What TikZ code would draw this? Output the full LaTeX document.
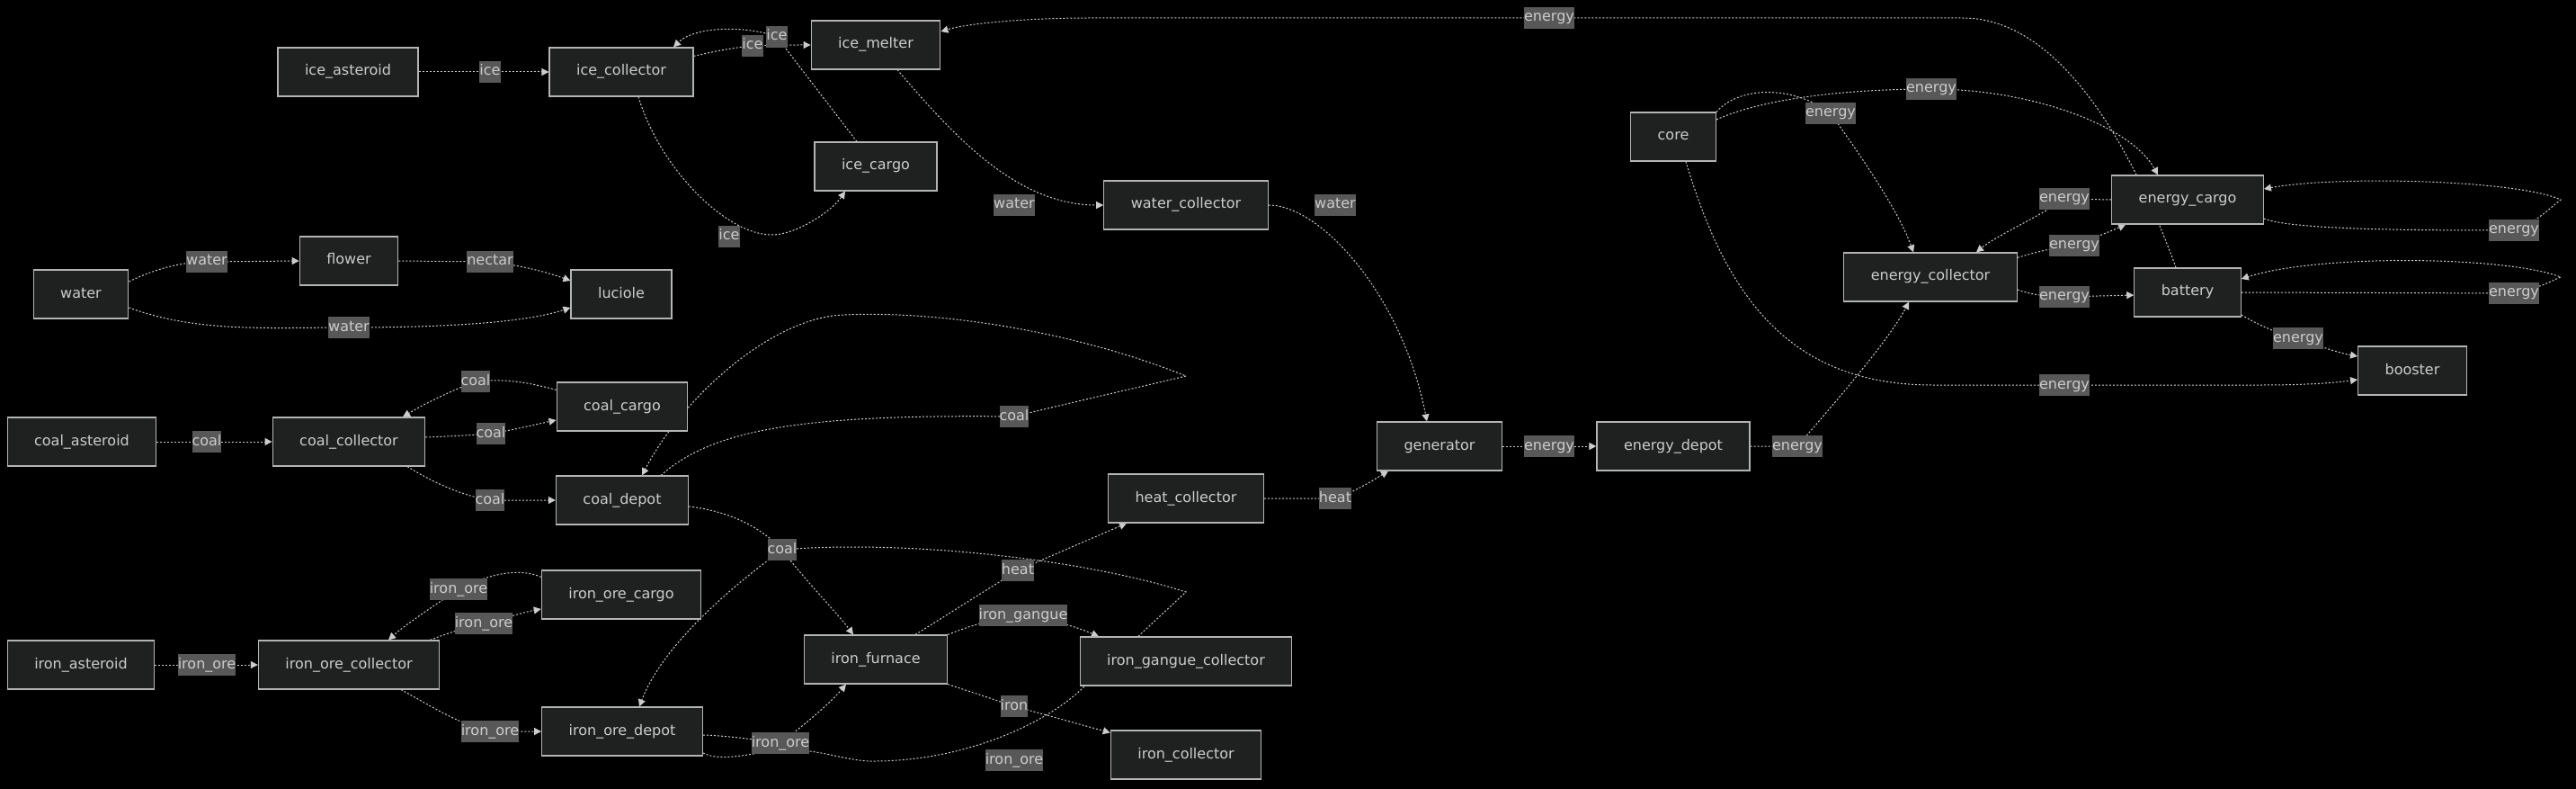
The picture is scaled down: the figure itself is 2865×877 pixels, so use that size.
\documentclass[tikz,border=0pt]{standalone}
\usepackage{fontspec}
\setmainfont{DejaVu Sans}
\usetikzlibrary{arrows.meta}
\pgfdeclarelayer{bg}
\pgfdeclarelayer{edges}
\pgfsetlayers{bg,edges,main}
\definecolor{nodefill}{HTML}{1F2020}
\definecolor{nodeline}{HTML}{B4B4B4}
\definecolor{txt}{HTML}{CCCCCC}
\definecolor{lblfill}{HTML}{585858}
\definecolor{edgec}{HTML}{CCCCCC}
\begin{document}
\begin{tikzpicture}[x=1pt,y=1pt,
  box/.style={draw=nodeline, fill=nodefill, line width=1.2pt, minimum height=54pt,
    inner xsep=30pt, inner ysep=0pt, text=txt, text height=12pt, text depth=4pt,
    font=\fontsize{16}{19}\selectfont},
  lbl/.style={fill=lblfill, text=txt, inner xsep=0pt, inner ysep=0pt, minimum height=24pt,
    text height=12pt, text depth=4pt, font=\fontsize{16}{19}\selectfont},
  edge/.style={draw=edgec, line width=1pt, dash pattern=on 2pt off 2pt,
    -{Triangle[length=8pt,width=8pt,fill=edgec]}}]
\begin{pgfonlayer}{bg}
\fill[black] (0,0) rectangle (2865,-877);
\end{pgfonlayer}
\useasboundingbox (0,0) rectangle (2865,-877);

% nodes
\node[box] (ice_asteroid) at (387,-80) {ice\_asteroid};
\node[box] (ice_collector) at (691,-80) {ice\_collector};
\node[box] (ice_melter) at (974,-50) {ice\_melter};
\node[box] (ice_cargo) at (974,-185) {ice\_cargo};
\node[box] (water) at (90,-327) {water};
\node[box] (flower) at (388,-290) {flower};
\node[box] (luciole) at (691,-327) {luciole};
\node[box] (water_collector) at (1319,-228) {water\_collector};
\node[box] (core) at (1861,-152) {core};
\node[box] (energy_cargo) at (2433,-222) {energy\_cargo};
\node[box] (energy_collector) at (2147,-308) {energy\_collector};
\node[box] (battery) at (2433,-325) {battery};
\node[box] (booster) at (2683,-412) {booster};
\node[box] (generator) at (1601,-496) {generator};
\node[box] (energy_depot) at (1861,-496) {energy\_depot};
\node[box] (heat_collector) at (1319,-554) {heat\_collector};
\node[box] (coal_asteroid) at (91,-491) {coal\_asteroid};
\node[box] (coal_collector) at (388,-491) {coal\_collector};
\node[box] (coal_cargo) at (692,-452) {coal\_cargo};
\node[box] (coal_depot) at (692,-556) {coal\_depot};
\node[box] (iron_asteroid) at (90,-739) {iron\_asteroid};
\node[box] (iron_ore_collector) at (388,-739) {iron\_ore\_collector};
\node[box] (iron_ore_cargo) at (691,-661) {iron\_ore\_cargo};
\node[box] (iron_ore_depot) at (692,-813) {iron\_ore\_depot};
\node[box] (iron_furnace) at (974,-733) {iron\_furnace};
\node[box] (iron_gangue_collector) at (1319,-735) {iron\_gangue\_collector};
\node[box] (iron_collector) at (1319,-839) {iron\_collector};

% edge labels
\node[lbl] (L1) at (545,-80) {ice};
\node[lbl] (L2) at (837,-51) {ice};
\node[lbl] (L3) at (864,-41) {ice};
\node[lbl] (L4) at (811,-263) {ice};
\node[lbl] (L5) at (230,-291) {water};
\node[lbl] (L6) at (545,-291) {nectar};
\node[lbl] (L7) at (388,-364) {water};
\node[lbl] (L8) at (1128,-228) {water};
\node[lbl] (L9) at (1485,-228) {water};
\node[lbl] (L10) at (1723,-20) {energy};
\node[lbl] (L11) at (2036,-126) {energy};
\node[lbl] (L12) at (2148,-99) {energy};
\node[lbl] (L13) at (2296,-428) {energy};
\node[lbl] (L14) at (2296,-221) {energy};
\node[lbl] (L15) at (2307,-273) {energy};
\node[lbl] (L16) at (2296,-330) {energy};
\node[lbl] (L17) at (2796,-256) {energy};
\node[lbl] (L18) at (2796,-326) {energy};
\node[lbl] (L19) at (2556,-376) {energy};
\node[lbl] (L20) at (1999,-496) {energy};
\node[lbl] (L21) at (1723,-496) {energy};
\node[lbl] (L22) at (1485,-554) {heat};
\node[lbl] (L23) at (1132,-634) {heat};
\node[lbl] (L24) at (1138,-684) {iron\_gangue};
\node[lbl] (L25) at (1128,-785) {iron};
\node[lbl] (L26) at (1128,-845) {iron\_ore};
\node[lbl] (L27) at (868,-826) {iron\_ore};
\node[lbl] (L28) at (870,-611) {coal};
\node[lbl] (L29) at (1128,-463) {coal};
\node[lbl] (L30) at (230,-491) {coal};
\node[lbl] (L31) at (529,-424) {coal};
\node[lbl] (L32) at (546,-482) {coal};
\node[lbl] (L33) at (545,-556) {coal};
\node[lbl] (L34) at (230,-739) {iron\_ore};
\node[lbl] (L35) at (510,-655) {iron\_ore};
\node[lbl] (L36) at (538,-693) {iron\_ore};
\node[lbl] (L37) at (545,-813) {iron\_ore};

\begin{pgfonlayer}{edges}
% ice
\draw[edge] (ice_asteroid) -- (L1.center) -- (ice_collector);
\draw[edge] ([yshift=-10pt]ice_collector.north east) .. controls (795,-57) and (815,-53) .. (L2.center) .. controls (860,-50) and (880,-50) .. (ice_melter.west);
\draw[edge] ([xshift=-21pt]ice_cargo.north) -- (L3.center) .. controls (834,-29) and (774,-28) .. ([xshift=58pt]ice_collector.north);
\draw[edge] ([xshift=19pt]ice_collector.south) .. controls (735,-190) and (810,-262) .. (859,-261) .. controls (885,-261) and (925,-235) .. ([xshift=-34pt]ice_cargo.south);
\draw[edge] ([xshift=24pt]ice_melter.south) .. controls (1060,-150) and (1130,-228) .. (water_collector.west);
\draw[edge] (water_collector.east) .. controls (1470,-228) and (1560,-330) .. ([xshift=-14pt]generator.north);
% energy
\draw[edge] ([xshift=-13pt]battery.north) .. controls (2370,-160) and (2290,-20) .. (2183,-20) -- (L10.center) -- (1210,-20) .. controls (1150,-20) and (1080,-25) .. ([yshift=15pt]ice_melter.east);
\draw[edge] (core.north east) .. controls (1935,-95) and (1995,-95) .. (L11.center) .. controls (2060,-160) and (2110,-230) .. ([xshift=-19pt]energy_collector.north);
\draw[edge] ([yshift=19pt]core.east) .. controls (1960,-110) and (2050,-99) .. (L12.center) .. controls (2260,-99) and (2370,-140) .. ([xshift=-33pt]energy_cargo.north);
\draw[edge] ([xshift=14pt]core.south) .. controls (1920,-330) and (1990,-428) .. (2150,-428) -- (L13.center) -- (2515,-428) .. controls (2570,-428) and (2600,-425) .. ([yshift=-10pt]booster.west);
\draw[edge] (energy_cargo.west) -- (L14.center) .. controls (2270,-240) and (2220,-262) .. ([xshift=51pt]energy_collector.north);
\draw[edge] ([yshift=-6pt]energy_collector.north east) .. controls (2265,-280) and (2285,-275) .. (L15.center) .. controls (2325,-266) and (2345,-258) .. ([xshift=16pt]energy_cargo.south west);
\draw[edge] ([yshift=-14pt]energy_collector.east) .. controls (2260,-328) and (2280,-330) .. (L16.center) -- ([yshift=-3pt]battery.west);
\draw[edge] ([yshift=-21pt]energy_cargo.east) .. controls (2550,-256) and (2700,-256) .. (L17.center) .. controls (2820,-248) and (2835,-232) .. (2848,-222) .. controls (2800,-200) and (2600,-195) .. ([yshift=12pt]energy_cargo.east);
\draw[edge] (battery.east) -- (L18.center) .. controls (2825,-320) and (2838,-312) .. (2848,-308) .. controls (2790,-285) and (2580,-282) .. ([yshift=15pt]battery.east);
\draw[edge] ([yshift=-25pt]battery.east) .. controls (2510,-360) and (2530,-370) .. (L19.center) .. controls (2580,-385) and (2600,-392) .. ([yshift=16pt]booster.west);
\draw[edge] (energy_depot.east) -- (L20.center) .. controls (2030,-460) and (2100,-380) .. ([xshift=-24pt]energy_collector.south);
\draw[edge] (generator) -- (L21.center) -- (energy_depot);
\draw[edge] (heat_collector.east) -- (L22.center) .. controls (1510,-545) and (1525,-535) .. ([xshift=-57pt]generator.south);
% iron furnace
\draw[edge] ([xshift=44pt]iron_furnace.north) -- (L23.center) -- ([xshift=-66pt]heat_collector.south);
\draw[edge] (iron_furnace.north east) .. controls (1080,-695) and (1110,-686) .. (L24.center) .. controls (1170,-688) and (1200,-698) .. ([xshift=-97pt]iron_gangue_collector.north);
\draw[edge] (iron_furnace.south east) -- (L25.center) -- ([yshift=-3pt]iron_collector.north west);
\draw[edge] ([yshift=-4pt]iron_ore_depot.east) .. controls (810,-818) and (840,-822) .. (L27.center) .. controls (895,-805) and (920,-785) .. ([xshift=-33pt]iron_furnace.south);
\draw[edge] ([yshift=-24pt]iron_ore_depot.east) .. controls (800,-846) and (825,-840) .. (868,-833) .. controls (920,-833) and (940,-847) .. (975,-846) .. controls (1080,-845) and (1170,-800) .. (1207,-762) -- (1319,-658) .. controls (1200,-620) and (1000,-600) .. (L28.center) .. controls (830,-640) and (740,-710) .. ([xshift=19pt]iron_ore_depot.north);
\draw[edge] ([xshift=43pt]coal_depot.north) .. controls (790,-480) and (880,-460) .. (L29.center) .. controls (1180,-450) and (1260,-432) .. (1319,-418) .. controls (1200,-370) and (1050,-345) .. (939,-350) .. controls (860,-352) and (760,-440) .. ([xshift=22pt]coal_depot.north);
\draw[edge] ([yshift=-7pt]coal_depot.east) .. controls (810,-568) and (845,-585) .. (L28.center) .. controls (895,-645) and (930,-680) .. ([xshift=-25pt]iron_furnace.north);
% water / flower
\draw[edge] ([yshift=14pt]water.east) .. controls (170,-300) and (200,-291) .. (L5.center) -- (flower.west);
\draw[edge] (flower.east) -- (L6.center) .. controls (580,-295) and (610,-303) .. ([yshift=15pt]luciole.west);
\draw[edge] ([yshift=-15pt]water.east) .. controls (220,-370) and (300,-364) .. (L7.center) .. controls (480,-364) and (580,-360) .. ([yshift=-15pt]luciole.west);
% coal
\draw[edge] (coal_asteroid) -- (L30.center) -- (coal_collector);
\draw[edge] ([yshift=-9pt]coal_cargo.north west) .. controls (595,-427) and (565,-420) .. (L31.center) .. controls (500,-435) and (470,-450) .. ([xshift=60pt]coal_collector.north);
\draw[edge] ([yshift=5pt]coal_collector.east) .. controls (500,-485) and (520,-484) .. (L32.center) .. controls (570,-478) and (595,-472) .. ([yshift=-15pt]coal_cargo.west);
\draw[edge] ([xshift=65pt]coal_collector.south) .. controls (480,-535) and (510,-550) .. (L33.center) -- (coal_depot.west);
% iron ore
\draw[edge] (iron_asteroid) -- (L34.center) -- (iron_ore_collector);
\draw[edge] ([yshift=-8pt]iron_ore_cargo.north west) .. controls (580,-632) and (550,-635) .. (L35.center) .. controls (480,-675) and (450,-695) .. ([xshift=44pt]iron_ore_collector.north);
\draw[edge] ([xshift=-11pt]iron_ore_collector.north east) .. controls (495,-705) and (515,-698) .. (L36.center) .. controls (565,-686) and (585,-680) .. ([yshift=-16pt]iron_ore_cargo.west);
\draw[edge] ([xshift=58pt]iron_ore_collector.south) .. controls (480,-785) and (510,-805) .. (L37.center) -- (iron_ore_depot.west);
\end{pgfonlayer}
\end{tikzpicture}
\end{document}
